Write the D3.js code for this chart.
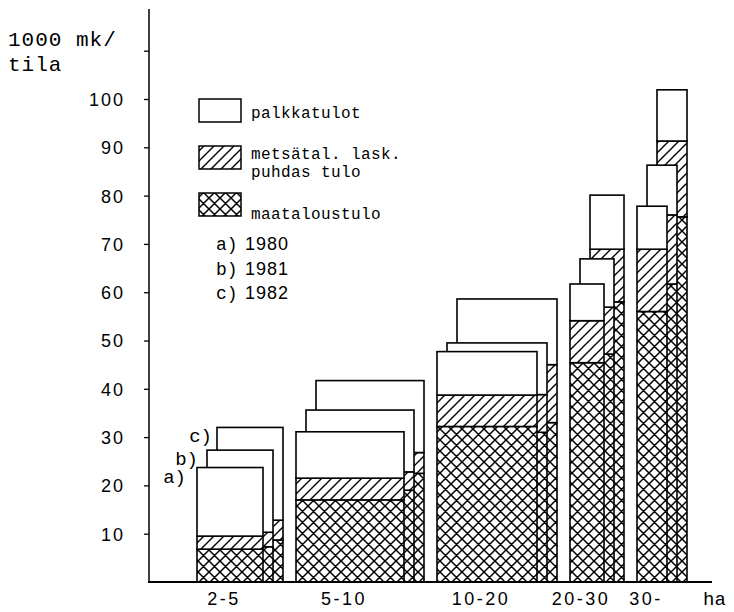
<!DOCTYPE html>
<html><head><meta charset="utf-8">
<script src="https://cdn.jsdelivr.net/npm/d3@7"></script>
<style>
body{margin:0;background:#fff;}
svg{display:block;}
</style></head>
<body>
<div id="chart"></div>
<script>
// ---- data ----
const categories = ["2-5", "5-10", "10-20", "20-30", "30-"];
const years = ["1980", "1981", "1982"];
const yearLetters = ["a)", "b)", "c)"];
// maataloustulo (1000 mk / tila)
const maat1980 = [6.8, 17.0, 32.2, 45.4, 56.0];
const maat1981 = [7.3, 19.0, 31.0, 47.2, 61.7];
const maat1982 = [8.7, 22.5, 33.0, 58.0, 75.6];
// metsätal. lask. puhdas tulo
const mets1980 = [2.7, 4.5, 6.5, 8.7, 12.9];
const mets1981 = [3.0, 3.8, 7.8, 9.7, 14.3];
const mets1982 = [4.1, 4.3, 12.0, 10.9, 15.7];
// palkkatulot
const palk1980 = [14.2, 9.6, 9.0, 7.6, 8.9];
const palk1981 = [17.0, 12.8, 10.7, 10.0, 10.3];
const palk1982 = [19.2, 14.9, 13.6, 11.2, 10.6];
// relative width of the bars of each size class
const classWidth = [66, 108, 100, 34, 30];
const yTicks = [10, 20, 30, 40, 50, 60, 70, 80, 90, 100, 110];
const legendLabels = ["palkkatulot", ["metsätal. lask.", "puhdas tulo"], "maataloustulo"];

const maat = [maat1980, maat1981, maat1982];
const mets = [mets1980, mets1981, mets1982];
const palk = [palk1980, palk1981, palk1982];

// ---- layout ----
const W = 734, H = 612;
const depth = 10, gap = 13, firstOffset = 49;
const svg = d3.select("#chart").append("svg").attr("width", W).attr("height", H);

const x = d3.scaleLinear().domain([0, 564]).range([148, 712]);
const y = d3.scaleLinear().domain([0, 110]).range([582, 50.7]);

// patterns
const defs = svg.append("defs");
const hatch = defs.append("pattern").attr("id", "hatch").attr("patternUnits", "userSpaceOnUse")
  .attr("width", 10).attr("height", 10);
hatch.append("rect").attr("width", 10).attr("height", 10).attr("fill", "#fff");
hatch.append("path").attr("d", "M0,10 L10,0 M-2,2 L2,-2 M8,12 L12,8")
  .attr("stroke", "#000").attr("stroke-width", 1.4);
const cs = 11;
const cross = defs.append("pattern").attr("id", "cross").attr("patternUnits", "userSpaceOnUse")
  .attr("width", cs).attr("height", cs);
cross.append("rect").attr("width", cs).attr("height", cs).attr("fill", "#fff");
cross.append("path")
  .attr("d", `M0,${cs} L${cs},0 M-2,2 L2,-2 M${cs-2},${cs+2} L${cs+2},${cs-2} M0,0 L${cs},${cs} M-2,${cs-2} L2,${cs+2} M${cs-2},-2 L${cs+2},2`)
  .attr("stroke", "#000").attr("stroke-width", 1.5);

// class positions (layout units)
const lefts = [];
let pos = firstOffset;
classWidth.forEach(w => { lefts.push(pos); pos += w + 2 * depth + gap; });

// bars: back (c) to front (a)
const gBars = svg.append("g");
categories.forEach((cat, i) => {
  [2, 1, 0].forEach(k => {
    const bx0 = x(lefts[i] + k * depth), bx1 = x(lefts[i] + k * depth + classWidth[i]);
    const m = maat[k][i], t = mets[k][i], p = palk[k][i];
    const segs = [
      {v0: 0, v1: m, fill: "url(#cross)"},
      {v0: m, v1: m + t, fill: "url(#hatch)"},
      {v0: m + t, v1: m + t + p, fill: "#fff"}
    ];
    gBars.selectAll(null).data(segs).enter().append("rect")
      .attr("x", bx0).attr("width", bx1 - bx0)
      .attr("y", d => y(d.v1)).attr("height", d => y(d.v0) - y(d.v1))
      .attr("fill", d => d.fill).attr("stroke", "#000").attr("stroke-width", 1.6);
  });
});

// year letters next to first class
yearLetters.forEach((l, k) => {
  const tot = maat[k][0] + mets[k][0] + palk[k][0];
  svg.append("text").attr("x", x(lefts[0] + k * depth) - [11, 9, 5][k]).attr("y", y(tot) + 15)
    .attr("text-anchor", "end").attr("font-family", "Liberation Mono").attr("font-size", 19)
    .text(l);
});

// y axis
const yAxis = svg.append("g").attr("transform", "translate(149,0)")
  .call(d3.axisLeft(y).tickValues(yTicks).tickSize(5).tickPadding(19)
    .tickFormat(d => d <= 100 ? d : ""));
yAxis.select(".domain").remove();
yAxis.selectAll(".tick line").attr("stroke", "#000").attr("stroke-width", 1.3);
yAxis.selectAll(".tick text").attr("font-family", "Liberation Sans").attr("font-size", 18)
  .attr("letter-spacing", 2).attr("fill", "#000").attr("dy", "0.36em");
svg.append("line").attr("x1", 149).attr("x2", 149).attr("y1", 9).attr("y2", y(0))
  .attr("stroke", "#000").attr("stroke-width", 1.5);
// baseline
svg.append("line").attr("x1", x(0)).attr("x2", x(564)).attr("y1", y(0)).attr("y2", y(0))
  .attr("stroke", "#000").attr("stroke-width", 2);

// axis title
svg.append("text").attr("x", 8).attr("y", 46).attr("font-family", "Liberation Mono")
  .attr("font-size", 21).attr("letter-spacing", 1).text("1000 mk/");
svg.append("text").attr("x", 8).attr("y", 71).attr("font-family", "Liberation Mono")
  .attr("font-size", 21).attr("letter-spacing", 1).text("tila");

// category labels
categories.forEach((cat, i) => {
  svg.append("text").attr("x", x(lefts[i] + classWidth[i] / 2) - 6).attr("y", 605)
    .attr("text-anchor", "middle").attr("font-family", "Liberation Sans").attr("font-size", 18)
    .attr("letter-spacing", 2.5).text(cat);
});
svg.append("text").attr("x", 703).attr("y", 605).attr("font-family", "Liberation Mono")
  .attr("font-size", 19).text("ha");

// legend
const legFills = ["#fff", "url(#hatch)", "url(#cross)"];
const legTop = [99, 146, 193];
legFills.forEach((f, j) => {
  svg.append("rect").attr("x", 199).attr("y", legTop[j]).attr("width", 42).attr("height", 23)
    .attr("fill", f).attr("stroke", "#000").attr("stroke-width", 1.5);
});
svg.append("text").attr("x", 251).attr("y", 118).attr("font-family", "Liberation Mono")
  .attr("font-size", 16).attr("letter-spacing", 0.4).text(legendLabels[0]);
svg.append("text").attr("x", 251).attr("y", 159).attr("font-family", "Liberation Mono")
  .attr("font-size", 16).attr("letter-spacing", 0.4).text(legendLabels[1][0]);
svg.append("text").attr("x", 251).attr("y", 177).attr("font-family", "Liberation Mono")
  .attr("font-size", 16).attr("letter-spacing", 0.4).text(legendLabels[1][1]);
svg.append("text").attr("x", 251).attr("y", 219).attr("font-family", "Liberation Mono")
  .attr("font-size", 16).attr("letter-spacing", 0.4).text(legendLabels[2]);
years.forEach((yr, k) => {
  const t = svg.append("text").attr("y", 250 + k * 24.5);
  t.append("tspan").attr("x", 216).attr("font-family", "Liberation Mono").attr("font-size", 18).text(yearLetters[k]);
  t.append("tspan").attr("x", 245).attr("font-family", "Liberation Sans").attr("font-size", 18)
    .attr("letter-spacing", 1).text(yr);
});
</script>
</body></html>
